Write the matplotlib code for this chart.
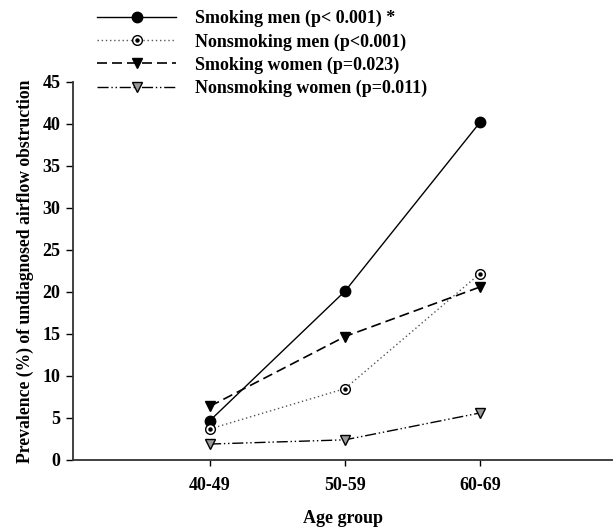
import matplotlib
matplotlib.use("Agg")
import matplotlib.pyplot as plt
import numpy as np

categories = ["40-49", "50-59", "60-69"]
smoking_men = [4.7, 20.1, 40.2]
nonsmoking_men = [3.7, 8.5, 22.2]
smoking_women = [6.4, 14.7, 20.6]
nonsmoking_women = [1.9, 2.4, 5.6]
labels = ["Smoking men (p< 0.001) *", "Nonsmoking men (p<0.001)",
          "Smoking women (p=0.023)", "Nonsmoking women (p=0.011)"]
yticks = [0, 5, 10, 15, 20, 25, 30, 35, 40, 45]

plt.rcParams['font.family'] = ['Liberation Serif', 'DejaVu Serif']
plt.rcParams['font.weight'] = 'bold'
FS = 13

fig = plt.figure(figsize=(6.13, 5.29), dpi=100)
ax = fig.add_axes([73/613, 1-460/529, (613-73)/613, (460-82)/529])

x = np.arange(1, len(categories) + 1)

h1, = ax.plot(x, smoking_men, color='black', lw=1.0, ls='-',
              marker='o', ms=7.5, mfc='black', mec='black')
h2, = ax.plot(x, nonsmoking_men, color='#555555', lw=1.0, ls=(0, (1, 2)),
              marker='o', ms=7, mfc='white', mec='black', mew=1.0)
h2d, = ax.plot(x, nonsmoking_men, ls='none', marker='o', ms=2.2, color='black')
h3, = ax.plot(x, smoking_women, color='black', lw=1.2, ls=(0, (6, 3)),
              marker='v', ms=7.5, mfc='black', mec='black')
h4, = ax.plot(x, nonsmoking_women, color='black', lw=1.0,
              ls=(0, (8, 2, 1, 2, 1, 2)),
              marker='v', ms=7, mfc='#9a9a9a', mec='black', mew=1.0)

ax.set_xlim(-0.015, 3.985)
ax.set_ylim(0, 45)
ax.set_xticks(x)
ax.set_xticklabels(categories, fontsize=FS, fontweight='bold')
ax.set_yticks(yticks)
ax.set_yticklabels([str(v) for v in yticks], fontsize=FS, fontweight='bold')
for s in ['top', 'right']:
    ax.spines[s].set_visible(False)
for s in ['left', 'bottom']:
    ax.spines[s].set_linewidth(1.3)
    ax.spines[s].set_color('#333333')
ax.tick_params(axis='y', direction='out', length=5, width=1.0, pad=4)
ax.tick_params(axis='x', direction='out', length=4, width=1.0, pad=8)

ax.set_xlabel("Age group", fontsize=FS, fontweight='bold', labelpad=12)
ax.set_ylabel("Prevalence (%) of undiagnosed airflow obstruction",
              fontsize=12.7, fontweight='bold', labelpad=6)

leg = fig.legend([h1, (h2, h2d), h3, h4], labels, loc='upper left',
                 bbox_to_anchor=(97/613, 1-10/529), frameon=False,
                 fontsize=FS, handlelength=4.4, handletextpad=1.05,
                 labelspacing=0.33, borderaxespad=0, borderpad=0)
for t in leg.get_texts():
    t.set_fontweight('bold')

fig.savefig("out.png", dpi=100)
